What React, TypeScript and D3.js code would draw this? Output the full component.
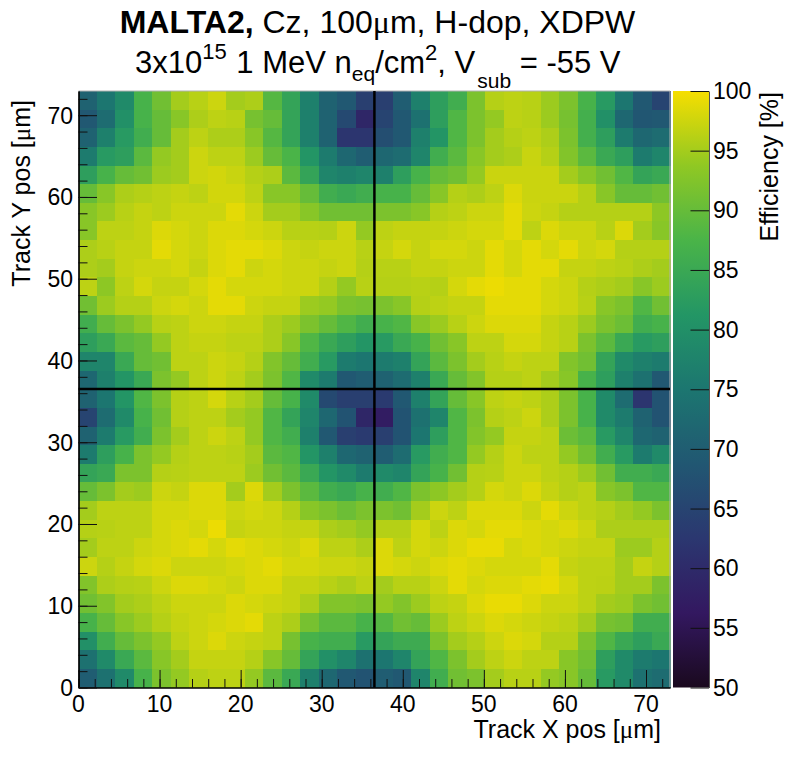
import { useEffect, useRef } from "react";
import * as d3 from "d3";

const WIDTH = 788;
const HEIGHT = 764;

// Efficiency [%] per bin, top row (high Y) first, 32 bins per axis
const efficiency: number[][] = [
  [71, 75, 79, 87, 91, 95, 96.2, 97.4, 95, 95.5, 88.5, 84, 77, 71, 69, 64, 64, 70, 77, 83, 86, 92, 96, 96.5, 96.2, 94.5, 92, 87, 82, 75, 69, 65],
  [69, 73, 80, 87, 90, 93, 95.5, 96.5, 96.2, 91.5, 90, 84, 77, 71, 66, 59, 65, 69, 74, 83, 88, 92, 94, 96.5, 96.2, 94.5, 91.5, 86.5, 80, 72, 68.5, 69],
  [71, 77, 82, 86, 90, 95, 96.5, 95.5, 95.5, 93, 88.5, 84, 77, 71, 62, 62, 67, 69, 77, 81, 88, 92, 95, 96, 96.5, 95.5, 92, 86.5, 83, 76, 72, 73],
  [76, 82, 83, 89, 94, 95, 97.4, 96.5, 96.5, 94.5, 90, 87.5, 81, 76, 72, 70, 72, 73, 78, 86, 89, 93, 95, 95.5, 97.2, 96, 92.5, 89, 85, 83, 76, 78],
  [83, 87, 90, 91, 94.5, 95, 97.4, 97.8, 97.2, 96, 95.5, 89, 84, 78, 77, 78, 77, 83, 87, 90, 91, 94, 97.3, 97.3, 97.3, 97.3, 95, 93, 91, 88, 84, 85],
  [90, 93, 95.5, 96, 96.5, 97, 96.5, 97.8, 97.8, 96.5, 93, 93, 90, 86, 85, 86, 87, 87, 90, 93, 96, 95.5, 96.5, 98.4, 97.3, 97.3, 97.3, 96, 93, 90, 90, 91],
  [93, 94.5, 96.2, 97, 96.5, 97.4, 97.4, 97.4, 98.9, 97.4, 95, 95, 93, 91, 91, 91, 92, 92, 93, 96, 96.5, 97.4, 97.4, 98.9, 97.4, 97, 96, 96, 96, 96, 96, 93.5],
  [93, 96.5, 96.5, 97, 98.4, 97.9, 97.4, 98.4, 98.4, 97.9, 97.4, 96.2, 96.2, 96, 97.4, 94, 96.5, 97, 97, 97, 97.4, 97.9, 97.9, 98.9, 96.5, 98.4, 97.4, 97.4, 96.2, 98.4, 95, 93],
  [95.5, 96.2, 97, 97, 98.9, 97.9, 97.4, 98.4, 98.9, 98.9, 98.4, 97.4, 97, 97.4, 97.4, 96.2, 97, 97.9, 97, 97.9, 97.9, 97.4, 98.9, 97.9, 98.9, 97.9, 98.9, 97.4, 97.9, 96, 96, 96],
  [95.5, 95, 97, 97.4, 97.4, 97.9, 97, 98.4, 98.9, 97.4, 97.9, 97.4, 97.4, 97, 97.4, 96, 96.2, 96.2, 97, 97, 97.4, 97.4, 98.9, 97.9, 98.9, 98.9, 97, 97, 96.5, 96.2, 95.5, 95],
  [96.5, 93.5, 96.5, 97.9, 97, 97, 97.9, 98.9, 97.9, 97.9, 97.9, 97.4, 97.4, 96, 94, 96.2, 96, 96, 96.2, 96, 97.9, 98.9, 99.4, 98.9, 98.9, 97.9, 97.4, 96, 95.5, 95, 93, 94.5],
  [91, 94.5, 96, 96, 97.4, 97.9, 97.4, 98.9, 98.9, 97.4, 97, 97, 94.5, 94, 92, 91.5, 92, 93, 96, 96.5, 97, 97, 98.9, 98.9, 98.9, 97.9, 97.4, 96.2, 93, 92, 88, 91],
  [86, 90, 92, 94, 96.2, 96.5, 97.4, 97.4, 97, 97, 95.5, 94.5, 92, 90, 88, 86, 87, 88, 93, 94.5, 96.2, 97.4, 98.4, 98.4, 98.4, 97, 96.2, 94.5, 92, 90.5, 86, 87],
  [83, 85, 89, 90, 94, 96.5, 97, 97, 96.5, 96.5, 95.5, 93, 88, 85, 83, 81, 82, 85, 87, 91, 93, 96.5, 96.5, 97.9, 97.9, 97, 96.2, 92, 89, 85, 82, 83],
  [78, 78, 85, 90, 91, 96.5, 96.5, 97.4, 97, 96, 92.5, 90, 86, 82, 76, 75, 76, 77, 84, 89, 92, 95, 96.2, 97, 96.5, 96.5, 92.5, 91, 84, 79, 77, 76],
  [72, 77, 81, 85, 92, 94, 96.5, 97.4, 96.5, 95, 92, 88, 79, 76, 69, 70, 71, 73, 77, 85, 90, 92.5, 96, 96, 96.5, 95, 93, 87, 83, 77, 74, 69],
  [71, 75, 81, 88, 92, 96, 96.5, 97.9, 96.2, 95, 90, 87, 79, 66, 64, 64, 63, 69, 77, 84, 90, 93, 96.5, 97, 96.5, 95.5, 92, 87, 79, 73, 62, 68],
  [65, 73, 79, 87, 91, 96, 96.5, 96.5, 95, 94, 88, 84, 78, 72, 68, 59, 57, 68, 74, 78, 88, 92, 96, 96.5, 97.4, 95.5, 92, 87, 79, 76, 71, 68],
  [71, 76, 82, 86, 92, 95, 96.5, 97.4, 96.5, 94, 88, 86, 77, 69, 64, 63, 64, 68, 75, 83, 88, 92.5, 94, 97, 97, 96.5, 90.5, 89, 82, 78, 72, 71],
  [76, 83, 87, 92, 94, 96, 96.5, 96.5, 96.2, 95, 89, 88, 81, 77, 72, 71, 70, 73, 82, 86, 88, 94, 96, 97.4, 96.5, 96.5, 94, 91, 86, 82, 76, 79],
  [84, 85, 92, 92, 96, 96.2, 96.5, 96.5, 96.5, 94.5, 91, 89, 85, 81, 79, 76, 79, 78, 84, 87, 91, 96, 96.2, 97.4, 97.4, 96.5, 96, 94.5, 91, 86, 86, 85],
  [90, 92, 95, 94.5, 97.4, 97, 98.4, 98.4, 95, 98.4, 95, 92, 89, 86, 85, 87, 86, 88, 92, 93.5, 95, 96, 97.9, 97.4, 98.4, 97, 96, 96.5, 93, 92, 88, 88],
  [95, 96.5, 96.5, 96.5, 97.9, 97.9, 98.4, 98.4, 97.4, 97.9, 97.4, 96, 93, 92, 90.5, 92, 92, 91, 95, 97.4, 96.5, 98.4, 98.4, 98.4, 97.4, 98.9, 97.4, 96.5, 96, 95, 94, 92],
  [96, 96.2, 96.5, 96.5, 97.9, 98.4, 97.9, 99.4, 97, 97.4, 97.4, 97, 97, 95.5, 95, 94, 96, 96, 97.9, 96.5, 98.4, 97.9, 98.9, 98.9, 98.4, 97.9, 98.4, 97.4, 95.5, 95.5, 95.5, 95.5],
  [95, 96.5, 96.5, 97.4, 97.9, 98.4, 98.9, 97.9, 98.9, 98.4, 97.9, 97.4, 98.4, 96.5, 96.5, 95.5, 98.4, 96.5, 97.9, 97.4, 98.4, 99.2, 99.2, 97.9, 98.4, 97.9, 97.4, 97, 97, 94.5, 94.5, 96],
  [97.4, 96, 97, 97.9, 98.4, 97.4, 97.4, 97.4, 97.9, 98.4, 98.9, 97.9, 97.9, 97.4, 97.4, 97, 98.4, 97.9, 97.4, 98.4, 98.9, 98.4, 97.9, 97.9, 97.9, 98.9, 97, 96.5, 96.5, 95, 97, 96],
  [92.5, 95.5, 96, 96.2, 97.4, 98.4, 98.4, 97.9, 97.4, 98.4, 98.4, 97, 97, 96.2, 95.5, 96.5, 95, 96.2, 96.2, 97.4, 98.9, 97.9, 98.4, 98.4, 98.9, 99.2, 97.9, 96.5, 96.4, 95, 95, 92],
  [91, 92.5, 95, 95.5, 96.5, 97.4, 97.4, 97.4, 98.4, 97.9, 97.4, 97, 95.5, 92.5, 92.5, 92, 94, 92.5, 94.5, 96.5, 97, 98.4, 99.2, 99.2, 98.4, 97.4, 97.4, 96.5, 95, 94.5, 92, 91],
  [87, 90, 93, 94.5, 96, 97, 97.4, 97.9, 98.4, 98.9, 96.5, 95.5, 91.5, 89, 89, 87, 88.5, 91, 90, 94.5, 96.5, 97.4, 98.4, 97.9, 97.4, 97, 96.5, 95, 91.5, 91, 86, 86],
  [80, 86, 90, 92, 94, 96.5, 97.4, 98.4, 97.4, 97, 96.5, 91.5, 87, 86, 86, 82, 84, 85.5, 85.5, 92, 95, 96, 97.4, 98.4, 97.9, 96, 96, 92, 88, 85, 83, 85],
  [74, 79, 85, 89, 93, 95, 97, 97, 97, 96, 93, 90, 84, 80, 78, 74, 75, 78, 84, 88, 92, 95, 96.5, 97.4, 96.5, 96.5, 93, 91, 83, 79, 76, 75],
  [70, 74, 79, 87, 92, 94, 96, 96.5, 96.5, 94, 89, 85, 77, 72, 69, 68, 70, 69, 78, 86, 91, 92, 95, 96.2, 96.2, 94, 93, 90, 82, 79, 74, 73],
];

const xMajorTicks = [0, 10, 20, 30, 40, 50, 60, 70];
const yMajorTicks = [0, 10, 20, 30, 40, 50, 60, 70];
const zTicks = [50, 55, 60, 65, 70, 75, 80, 85, 90, 95, 100];
const minorTicks = d3.range(0, 73, 2);

// ROOT kViridis palette stops
const paletteStops = [
  "rgb(26,9,30)",
  "rgb(51,24,96)",
  "rgb(43,55,112)",
  "rgb(33,87,114)",
  "rgb(28,118,112)",
  "rgb(35,150,101)",
  "rgb(74,180,72)",
  "rgb(144,200,35)",
  "rgb(246,222,0)",
];

const AXIS_MAX = 72.96;
const pixelCrossing = 36.5;
const FONT = "'Liberation Sans', Arial, sans-serif";
const MU_FONT = "'Liberation Serif', serif";

export default function App() {
  const svgRef = useRef<SVGSVGElement>(null);

  useEffect(() => {
    if (!svgRef.current) return;
    const svg = d3.select(svgRef.current);
    svg.selectAll("*").remove();

    const plot = { left: 78.5, right: 670, top: 91, bottom: 687.5 };
    const bar = { left: 673, right: 709 };

    const x = d3.scaleLinear().domain([0, AXIS_MAX]).range([plot.left, plot.right]);
    const y = d3.scaleLinear().domain([0, AXIS_MAX]).range([plot.bottom, plot.top]);
    const z = d3.scaleLinear().domain([50, 100]).range([plot.bottom, plot.top]);
    const color = d3
      .scaleLinear<string>()
      .domain(paletteStops.map((_, i) => 50 + (i * 50) / (paletteStops.length - 1)))
      .range(paletteStops)
      .interpolate(d3.interpolateRgb);

    const colBand = d3.scaleBand<number>().domain(d3.range(32)).range([plot.left, plot.right]);
    const rowBand = d3.scaleBand<number>().domain(d3.range(32)).range([plot.top, plot.bottom]);

    // Heat map cells
    const cells = svg.append("g").attr("shape-rendering", "crispEdges");
    efficiency.forEach((row, r) => {
      cells
        .append("g")
        .selectAll("rect")
        .data(row)
        .join("rect")
        .attr("x", (_, c) => colBand(c)!)
        .attr("y", rowBand(r)!)
        .attr("width", colBand.bandwidth() + 0.5)
        .attr("height", rowBand.bandwidth() + 0.5)
        .attr("fill", (d) => color(d));
    });

    // Colour bar
    const defs = svg.append("defs");
    const grad = defs
      .append("linearGradient")
      .attr("id", "palette")
      .attr("x1", "0%")
      .attr("y1", "100%")
      .attr("x2", "0%")
      .attr("y2", "0%");
    paletteStops.forEach((c, i) => {
      grad
        .append("stop")
        .attr("offset", `${(i / (paletteStops.length - 1)) * 100}%`)
        .attr("stop-color", c);
    });
    svg
      .append("rect")
      .attr("x", bar.left)
      .attr("y", plot.top)
      .attr("width", bar.right - bar.left)
      .attr("height", plot.bottom - plot.top)
      .attr("fill", "url(#palette)");

    // Frame: thin grey on top and right, black on the axes
    svg
      .append("path")
      .attr("d", `M${plot.left},${plot.top}H${plot.right}V${plot.bottom}`)
      .attr("fill", "none")
      .attr("stroke", "#b0b0b0")
      .attr("stroke-width", 1);

    const styleAxis = (g: d3.Selection<SVGGElement, unknown, null, undefined>) => {
      g.selectAll(".domain").attr("stroke", "#000").attr("stroke-width", 1.2);
      g.selectAll("line").attr("stroke", "#111").attr("stroke-width", 1);
    };

    // X axis, ticks point up into the plot
    const xMinor = svg.append("g").attr("transform", `translate(0,${plot.bottom})`);
    xMinor.call(
      d3.axisTop(x).tickValues(minorTicks).tickSize(8.5).tickSizeOuter(0).tickFormat(() => "")
    );
    styleAxis(xMinor);
    const xMajor = svg.append("g").attr("transform", `translate(0,${plot.bottom})`);
    xMajor.call(d3.axisTop(x).tickValues(xMajorTicks).tickSize(17.5).tickSizeOuter(0).tickFormat(() => ""));
    styleAxis(xMajor);
    svg
      .append("g")
      .selectAll("text")
      .data(xMajorTicks)
      .join("text")
      .attr("x", (d) => x(d))
      .attr("y", 712)
      .attr("text-anchor", "middle")
      .attr("font-family", FONT)
      .attr("font-size", 23)
      .text((d) => d);

    // Y axis, ticks point right into the plot
    const yMinor = svg.append("g").attr("transform", `translate(${plot.left},0)`);
    yMinor.call(
      d3.axisRight(y).tickValues(minorTicks).tickSize(9).tickSizeOuter(0).tickFormat(() => "")
    );
    styleAxis(yMinor);
    const yMajor = svg.append("g").attr("transform", `translate(${plot.left},0)`);
    yMajor.call(d3.axisRight(y).tickValues(yMajorTicks).tickSize(18.5).tickSizeOuter(0).tickFormat(() => ""));
    styleAxis(yMajor);
    svg
      .append("g")
      .selectAll("text")
      .data(yMajorTicks)
      .join("text")
      .attr("x", 73)
      .attr("y", (d) => y(d) + 8.5)
      .attr("text-anchor", "end")
      .attr("font-family", FONT)
      .attr("font-size", 23)
      .text((d) => d);

    // Colour bar axis, ticks point left
    const zAxis = svg.append("g").attr("transform", `translate(${bar.right},0)`);
    zAxis.call(d3.axisLeft(z).tickValues(zTicks).tickSize(18.5).tickSizeOuter(0).tickFormat(() => ""));
    zAxis.selectAll(".domain").attr("stroke", "#555").attr("stroke-width", 1);
    zAxis.selectAll("line").attr("stroke", "#111").attr("stroke-width", 1);
    svg
      .append("g")
      .selectAll("text")
      .data(zTicks)
      .join("text")
      .attr("x", 713)
      .attr("y", (d) => z(d) + 8)
      .attr("font-family", FONT)
      .attr("font-size", 23)
      .text((d) => d);

    // Crossing lines at the pixel centre
    svg
      .append("line")
      .attr("x1", x(pixelCrossing))
      .attr("x2", x(pixelCrossing))
      .attr("y1", plot.top)
      .attr("y2", plot.bottom)
      .attr("stroke", "#000")
      .attr("stroke-width", 2.5);
    svg
      .append("line")
      .attr("x1", plot.left)
      .attr("x2", plot.right)
      .attr("y1", y(pixelCrossing))
      .attr("y2", y(pixelCrossing))
      .attr("stroke", "#000")
      .attr("stroke-width", 2.5);

    // Axis titles
    const xTitle = svg
      .append("text")
      .attr("x", 661)
      .attr("y", 738)
      .attr("text-anchor", "end")
      .attr("font-family", FONT)
      .attr("font-size", 25);
    xTitle.append("tspan").text("Track X pos [");
    xTitle.append("tspan").attr("font-family", MU_FONT).text("μ");
    xTitle.append("tspan").text("m]");

    const yTitle = svg
      .append("text")
      .attr("transform", "translate(30,100) rotate(-90)")
      .attr("text-anchor", "end")
      .attr("font-family", FONT)
      .attr("font-size", 25);
    yTitle.append("tspan").text("Track Y pos [");
    yTitle.append("tspan").attr("font-family", MU_FONT).text("μ");
    yTitle.append("tspan").text("m]");

    svg
      .append("text")
      .attr("transform", "translate(778,92) rotate(-90)")
      .attr("text-anchor", "end")
      .attr("font-family", FONT)
      .attr("font-size", 25)
      .text("Efficiency [%]");

    // Two line header
    const line1 = svg
      .append("text")
      .attr("x", 377.5)
      .attr("y", 33)
      .attr("text-anchor", "middle")
      .attr("font-family", FONT)
      .attr("font-size", 32);
    line1.append("tspan").attr("font-weight", "bold").text("MALTA2,");
    line1.append("tspan").text(" Cz, 100");
    line1.append("tspan").attr("font-family", MU_FONT).text("μ");
    line1.append("tspan").text("m, H-dop, XDPW");

    const line2 = svg
      .append("text")
      .attr("x", 135)
      .attr("y", 73)
      .attr("font-family", FONT)
      .attr("font-size", 31);
    line2.append("tspan").text("3x10");
    line2.append("tspan").attr("font-size", 22).attr("dy", -14).text("15");
    line2.append("tspan").attr("dy", 14).attr("dx", 1).text(" 1 MeV n");
    line2.append("tspan").attr("font-size", 21).attr("dy", 8).text("eq");
    line2.append("tspan").attr("dy", -8).text("/cm");
    line2.append("tspan").attr("font-size", 22).attr("dy", -13).text("2");
    line2.append("tspan").attr("dy", 13).text(", V");
    line2.append("tspan").attr("font-size", 21).attr("dy", 15).attr("dx", 2).text("sub");
    line2.append("tspan").attr("dy", -15).text(" = -55 V");
  }, []);

  return (
    <svg
      ref={svgRef}
      width={WIDTH}
      height={HEIGHT}
      style={{ position: "absolute", left: 0, top: 0, display: "block", background: "#fff" }}
    />
  );
}
